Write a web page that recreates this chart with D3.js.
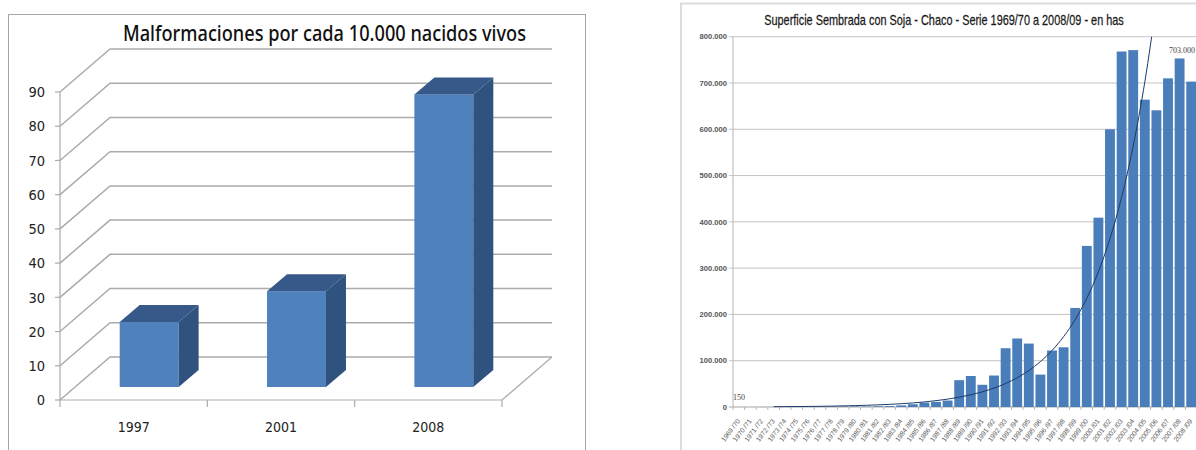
<!DOCTYPE html>
<html>
<head>
<meta charset="utf-8">
<script src="https://cdn.jsdelivr.net/npm/d3@7"></script>
<style>
  html, body { margin: 0; padding: 0; background: #fff; }
  svg { display: block; }
</style>
</head>
<body>
<svg id="page" width="1196" height="450"></svg>
<script>
// Left panel: malformations per 10,000 live births
const malformTitle = "Malformaciones por cada 10.000 nacidos vivos";
const malformYears = ["1997", "2001", "2008"];
const malformValues = [19, 28, 85.5];
const malformTicks = [0, 10, 20, 30, 40, 50, 60, 70, 80, 90];

// Right panel: hectares sown with soy in Chaco
const sojaTitle = "Superficie Sembrada con Soja - Chaco - Serie 1969/70 a 2008/09 - en has";
const campaigns = ["1969/70","1970/71","1971/72","1972/73","1973/74","1974/75","1975/76","1976/77","1977/78","1978/79",
  "1979/80","1980/81","1981/82","1982/83","1983/84","1984/85","1985/86","1986/87","1987/88","1988/89",
  "1989/90","1990/91","1991/92","1992/93","1993/94","1994/95","1995/96","1996/97","1997/98","1998/99",
  "1999/00","2000/01","2001/02","2002/03","2003/04","2004/05","2005/06","2006/07","2007/08","2008/09"];
const sownArea = [150, 100, 200, 300, 500, 800, 600, 700, 800, 1000,
  1200, 1000, 1500, 2000, 3500, 6000, 9500, 11000, 14000, 58000,
  67000, 48000, 68000, 127000, 148000, 137000, 70000, 122000, 129000, 214000,
  348000, 409000, 600000, 768000, 771000, 664000, 641000, 710000, 753000, 703000];
const trendArea = [null, null, null, 650, 800, 1000, 1200, 1500, 1900, 2400,
  3000, 3700, 4600, 5700, 7100, 8800, 11000, 13700, 17000, 21200,
  26400, 32800, 40800, 50800, 63300, 78800, 98000, 122000, 152000, 189000,
  235000, 292000, 364000, 453000, 564000, 702000, 873000, null, null, null];
const sojaTicks = [0, 100000, 200000, 300000, 400000, 500000, 600000, 700000, 800000];

const svg = d3.select("#page");
const dotted = d3.format(",");
const thousands = v => dotted(v).replace(/,/g, ".");

function drawMalformaciones() {
  const g = svg.append("g");
  const gridColor = "#ababab";
  const numberFont = "'DejaVu Sans Condensed','DejaVu Sans',sans-serif";
  const depth = { dx: 50, dy: -43 };       // floor depth of the 3D box
  const barDepth = { dx: 20, dy: -17 };    // depth of each column
  const barInset = { dx: 15.5, dy: -13 };  // how far columns sit behind the front edge

  const x = d3.scaleBand().domain(malformYears).range([60, 502]).paddingInner(0.6).paddingOuter(0.3);
  const y = d3.scaleLinear().domain([0, 90]).range([400, 92]);

  g.append("rect").attr("x", 8.5).attr("y", 14.5).attr("width", 577).attr("height", 440)
    .attr("fill", "#fff").attr("stroke", "#a6a6a6").attr("stroke-width", 1);

  // Back wall lines and their diagonals down to the axis
  malformTicks.forEach(t => {
    const yf = y(t);
    g.append("path")
      .attr("d", d3.line()([[x.range()[0], yf], [60 + depth.dx, yf + depth.dy], [552, yf + depth.dy]]))
      .attr("fill", "none").attr("stroke", gridColor).attr("stroke-width", 1.5);
    g.append("line").attr("x1", 55).attr("x2", 60).attr("y1", yf).attr("y2", yf)
      .attr("stroke", gridColor).attr("stroke-width", 1.2);
    g.append("text").attr("x", 45).attr("y", yf).attr("dy", "0.36em").attr("text-anchor", "end")
      .attr("font-family", numberFont)
      .attr("font-size", 14.5).attr("fill", "#222").text(t);
  });

  // Floor edge, value axis and category ticks
  g.append("path").attr("d", d3.line()([[60, y(90)], [60, y(0)], [502, y(0)], [552, y(0) + depth.dy]]))
    .attr("fill", "none").attr("stroke", gridColor).attr("stroke-width", 1.2);
  const edges = malformYears.map((d, i) => 60 + i * x.step()).concat(502);
  edges.forEach(e => g.append("line").attr("x1", e).attr("x2", e).attr("y1", 400).attr("y2", 407)
    .attr("stroke", gridColor).attr("stroke-width", 1.2));

  // Columns
  malformYears.forEach((yr, i) => {
    const x0 = x(yr) + barInset.dx, w = x.bandwidth();
    const base = y(0) + barInset.dy, top = y(malformValues[i]) + barInset.dy;
    const c = g.append("g");
    c.append("rect").attr("x", x0).attr("y", top).attr("width", w).attr("height", base - top).attr("fill", "#4f81bd");
    c.append("path").attr("fill", "#36598a").attr("d", d3.line()([
      [x0, top], [x0 + barDepth.dx, top + barDepth.dy], [x0 + w + barDepth.dx, top + barDepth.dy], [x0 + w, top]]));
    c.append("path").attr("fill", "#2f527f").attr("d", d3.line()([
      [x0 + w, top], [x0 + w + barDepth.dx, top + barDepth.dy], [x0 + w + barDepth.dx, base + barDepth.dy], [x0 + w, base]]));
    g.append("text").attr("x", x(yr) + x.bandwidth() / 2).attr("y", 427).attr("dy", "0.36em")
      .attr("text-anchor", "middle").attr("font-family", numberFont)
      .attr("font-size", 14).attr("fill", "#222").text(yr);
  });

  g.append("text").attr("x", 324.5).attr("y", 33).attr("dy", "0.36em").attr("text-anchor", "middle")
    .attr("font-family", "'Noto Sans','Open Sans',sans-serif").attr("font-size", 21).attr("font-weight", 500)
    .attr("textLength", 403).attr("lengthAdjust", "spacingAndGlyphs")
    .attr("fill", "#111").text(malformTitle);
}

function drawSoja() {
  const g = svg.append("g");
  const gridColor = "#c4c4c4";
  const right = 1196;
  const x = d3.scaleBand().domain(campaigns).range([733, 1197]).paddingInner(0.15).paddingOuter(0.075);
  const y = d3.scaleLinear().domain([0, 800000]).range([407, 36.7]);

  g.append("rect").attr("x", 681).attr("y", 3.5).attr("width", 530).attr("height", 460)
    .attr("fill", "#fff").attr("stroke", "#dcdcdc").attr("stroke-width", 2);

  sojaTicks.forEach(t => {
    g.append("line").attr("x1", 729).attr("x2", right).attr("y1", y(t)).attr("y2", y(t))
      .attr("stroke", t === 0 ? "#a8a8a8" : gridColor).attr("stroke-width", 1);
    g.append("text").attr("x", 727).attr("y", y(t)).attr("dy", "0.36em").attr("text-anchor", "end")
      .attr("font-family", "'Liberation Sans',sans-serif").attr("font-weight", "bold")
      .attr("font-size", 7.6).attr("fill", "#555").text(thousands(t));
  });
  g.append("line").attr("x1", 733).attr("x2", 733).attr("y1", y(800000)).attr("y2", 407)
    .attr("stroke", "#b5b5b5");

  // Category ticks along the baseline
  campaigns.forEach((c, i) => {
    const e = 733 + i * x.step();
    g.append("line").attr("x1", e).attr("x2", e).attr("y1", 407).attr("y2", 410).attr("stroke", "#b5b5b5");
  });

  g.selectAll("rect.area").data(campaigns).join("rect").attr("class", "area")
    .attr("x", c => x(c)).attr("width", x.bandwidth())
    .attr("y", (c, i) => y(sownArea[i])).attr("height", (c, i) => y(0) - y(sownArea[i]))
    .attr("fill", "#4a7ebb");

  // Exponential trend, cut off at the top of the plot
  const clip = svg.append("clipPath").attr("id", "plot-clip");
  clip.append("rect").attr("x", 733).attr("y", y(800000)).attr("width", 463).attr("height", 371);
  g.append("path")
    .attr("clip-path", "url(#plot-clip)")
    .attr("d", d3.line().defined(d => d[1] !== null)
      .x(d => x(d[0]) + x.bandwidth() / 2).y(d => y(d[1])).curve(d3.curveMonotoneX)(campaigns.map((c, i) => [c, trendArea[i]])))
    .attr("fill", "none").attr("stroke", "#1f3a68").attr("stroke-width", 1);

  // Campaign labels, slanted
  campaigns.forEach(c => {
    const cx = x(c) + x.bandwidth() / 2;
    g.append("text").attr("transform", `translate(${cx},420) rotate(-53)`)
      .attr("text-anchor", "end").attr("dy", "0.3em")
      .attr("font-family", "'Liberation Sans',sans-serif").attr("font-size", 6.8)
      .attr("fill", "#5a5a5a").text(c.replace("/", " /"));
  });

  // Labels for first and last campaign
  g.append("text").attr("x", 733).attr("y", 397).attr("dy", "0.36em")
    .attr("font-family", "'Liberation Serif',serif").attr("font-size", 8).attr("fill", "#444")
    .text(thousands(sownArea[0]));
  g.append("text").attr("x", 1195).attr("y", 50).attr("dy", "0.36em").attr("text-anchor", "end")
    .attr("font-family", "'Liberation Serif',serif").attr("font-size", 8).attr("fill", "#444")
    .text(thousands(sownArea[39]));

  // Narrow title: squeeze horizontally to its 360px slot
  const title = g.append("text").attr("dy", "0.36em").attr("text-anchor", "middle")
    .attr("font-family", "'Liberation Sans',sans-serif").attr("font-size", 14)
    .attr("stroke", "#1a1a1a").attr("stroke-width", 0.25)
    .attr("fill", "#1a1a1a").text(sojaTitle);
  const squeeze = 360 / title.node().getComputedTextLength();
  title.attr("transform", `translate(944,20) scale(${squeeze},1)`);
}

drawMalformaciones();
drawSoja();
</script>
</body>
</html>
